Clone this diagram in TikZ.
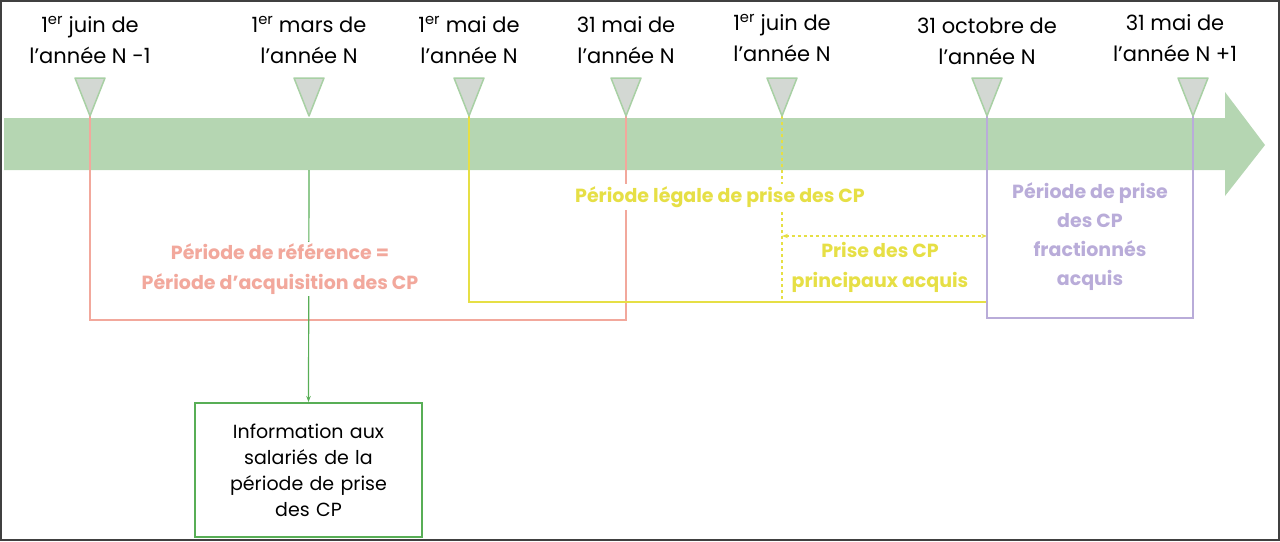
\documentclass[tikz,border=0pt]{standalone}
\usepackage{fontspec}
\setmainfont{Poppins}
\usetikzlibrary{arrows.meta,calc}
\definecolor{band}{HTML}{B5D6B2}
\definecolor{tri}{HTML}{D3D8D3}
\definecolor{trib}{HTML}{A8D0A4}
\definecolor{pink}{HTML}{F2A89C}
\definecolor{yel}{HTML}{E6DF45}
\definecolor{purp}{HTML}{B9ACD9}
\definecolor{grn}{HTML}{58AE56}
\begin{document}
\begin{tikzpicture}[x=1pt,y=-1pt,
  tick/.style={fill=tri,draw=trib,line width=1.5pt,line join=round},
  date/.style={align=center,font=\fontsize{21}{31}\selectfont,text=black},
  lbl/.style={align=center,font=\fontsize{19}{30}\selectfont\bfseries,fill=white,inner sep=2pt},
  ln/.style={line width=1.2pt}]
\useasboundingbox (0,0) rectangle (1280,541);
\draw[line width=2pt,draw=black!75] (1,1) rectangle (1279,540);
% band arrow
\fill[band] (4,118) -- (1225,118) -- (1225,92) -- (1265,145) -- (1225,196) -- (1225,170) -- (4,170) -- cycle;
% coordinates
\foreach \n/\x in {a/90,b/309,c/469,d/626,e/782,f/987,g/1193}{
  \coordinate (\n) at (\x,116);
  \coordinate (\n b) at (\x,170);
}
% pink
\coordinate (p1) at (90,320); \coordinate (p2) at (626,320);
\draw[pink,ln] (a) -- (p1) -- (p2) -- (d);
% yellow
\coordinate (y1) at (469,302); \coordinate (y2) at (987,302);
\draw[yel,ln] (c) -- (y1) -- (y2) -- (f);
\coordinate (y3) at (782,302);
\draw[yel,ln,dashed] (e) -- (y3);
\coordinate (da) at (782,236); \coordinate (db) at (987,236);
\draw[yel,ln,dashed,{Stealth[length=6pt]}-{Stealth[length=6pt]}] (da) -- (db);
% purple
\coordinate (q1) at (987,318); \coordinate (q2) at (1193,318);
\draw[purp,ln] (f) -- (q1) -- (q2) -- (g);
% green
\node[draw=grn,line width=2pt,minimum width=227pt,minimum height=134pt,align=center,
  font=\fontsize{19}{26}\selectfont,text width=215pt] (info) at (308.5,470)
  {Information aux\\salariés de la\\période de prise\\des CP};
\draw[grn,ln,-{Stealth[length=6pt]}] (bb) -- (info.north);
% labels
\node[lbl,text=pink] (lref) at (280,269) {Période de référence =\\Période d'acquisition des CP};
\node[lbl,text=yel] (lleg) at (720,197) {Période légale de prise des CP};
\node[lbl,text=yel,fill=none] (lpri) at (880,267) {Prise des CP\\principaux acquis};
\node[lbl,text=purp,fill=none,font=\fontsize{19}{29}\selectfont\bfseries] (lfra) at (1090,237) {Période de prise\\des CP\\fractionnés\\acquis};
% ticks
\foreach \n in {a,b,c,d,e,f,g}{
  \draw[tick] ($(\n)+(-15,-38)$) -- ($(\n)+(15,-38)$) -- (\n) -- cycle;
}
% dates
\node[date] (ta) at (90,40) {1\textsuperscript{er} juin de\\l’année N -1};
\node[date] (tb) at (309,40) {1\textsuperscript{er} mars de\\l’année N};
\node[date] (tc) at (469,40) {1\textsuperscript{er} mai de\\l’année N};
\node[date] (td) at (626,40) {31 mai de\\l’année N};
\node[date] (te) at (782,38) {1\textsuperscript{er} juin de\\l’année N};
\node[date] (tf) at (987,41) {31 octobre de\\l’année N};
\node[date] (tg) at (1175,38) {31 mai de\\l’année N +1};
\end{tikzpicture}
\end{document}
